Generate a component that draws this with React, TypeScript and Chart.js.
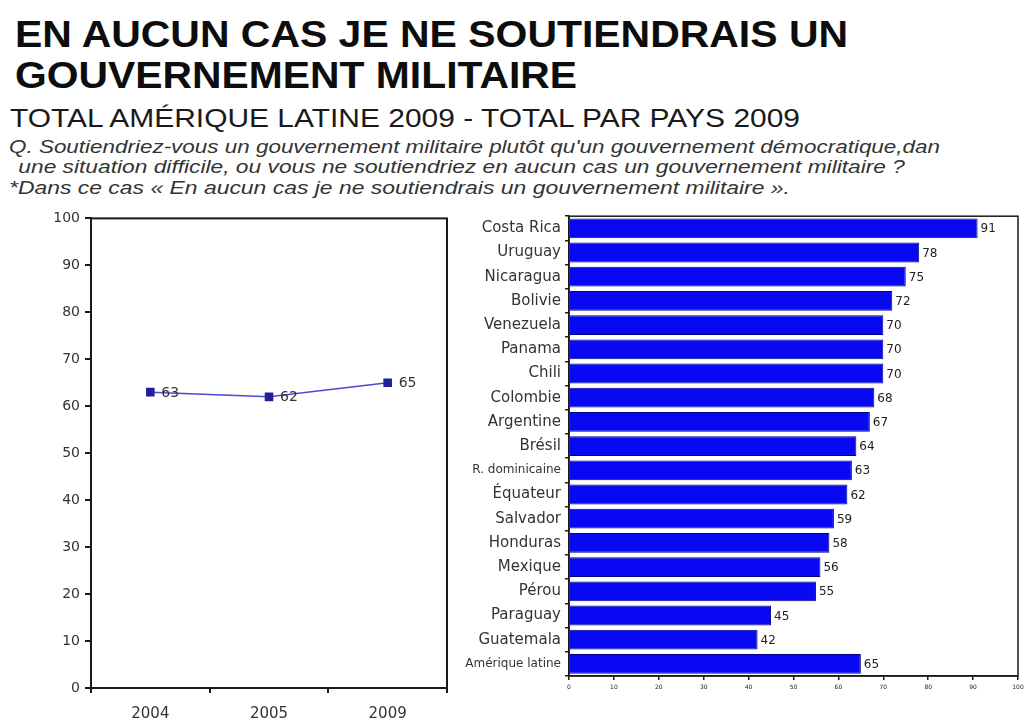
import React, { useEffect, useLayoutEffect, useRef } from "react";
import { Chart, registerables } from "chart.js";

Chart.register(...registerables);

// ---------- data ----------
const years = ["2004", "2005", "2009"];
const totalValues = [63, 62, 65];

const countries = [
  "Costa Rica",
  "Uruguay",
  "Nicaragua",
  "Bolivie",
  "Venezuela",
  "Panama",
  "Chili",
  "Colombie",
  "Argentine",
  "Brésil",
  "R. dominicaine",
  "Équateur",
  "Salvador",
  "Honduras",
  "Mexique",
  "Pérou",
  "Paraguay",
  "Guatemala",
  "Amérique latine",
];
const countryValues = [91, 78, 75, 72, 70, 70, 70, 68, 67, 64, 63, 62, 59, 58, 56, 55, 45, 42, 65];
const smallLabelCountries = ["R. dominicaine", "Amérique latine"];

const titleLines = ["EN AUCUN CAS JE NE SOUTIENDRAIS UN", "GOUVERNEMENT MILITAIRE"];
const subtitle = "TOTAL AMÉRIQUE LATINE 2009 - TOTAL PAR PAYS 2009";
const questionLines = [
  "Q. Soutiendriez-vous un gouvernement militaire plutôt qu'un gouvernement démocratique,dan",
  " une situation difficile, ou vous ne soutiendriez en aucun cas un gouvernement militaire ?",
  "*Dans ce cas « En aucun cas je ne soutiendrais un gouvernement militaire ».",
];

const CHART_FONT = "'DejaVu Sans', 'Liberation Sans', sans-serif";
const TEXT_FONT = "'Liberation Sans', Arial, sans-serif";

// ---------- plugins ----------
const framePlugin = {
  id: "frame",
  afterDatasetsDraw(chart: any, _args: any, opts: any) {
    const { ctx, chartArea } = chart;
    const { left, top, right, bottom } = chartArea;
    ctx.save();
    ctx.strokeStyle = opts.color || "#222";
    ctx.lineWidth = opts.width || 1;
    ctx.strokeRect(left, top, right - left, bottom - top);
    ctx.restore();
  },
};

const valueLabelPlugin = {
  id: "valueLabels",
  afterDatasetsDraw(chart: any, _args: any, opts: any) {
    const { ctx } = chart;
    chart.data.datasets.forEach((ds: any, i: number) => {
      const meta = chart.getDatasetMeta(i);
      meta.data.forEach((el: any, j: number) => {
        ctx.save();
        ctx.font = opts.font;
        ctx.fillStyle = opts.color;
        ctx.textAlign = "left";
        ctx.textBaseline = "middle";
        ctx.fillText(String(ds.data[j]), el.x + opts.dx, el.y + opts.dy);
        ctx.restore();
      });
    });
  },
};

// ---------- text helper ----------
function FitLine({ text, left, top, width, style }: any) {
  const ref = useRef<HTMLDivElement>(null);
  useLayoutEffect(() => {
    const el = ref.current;
    if (!el) return;
    el.style.transform = "none";
    const w = el.getBoundingClientRect().width;
    if (w > 0) el.style.transform = `scaleX(${width / w})`;
  }, [text, width]);
  return (
    <div
      ref={ref}
      style={{
        position: "absolute",
        left,
        top,
        whiteSpace: "pre",
        transformOrigin: "0 0",
        ...style,
      }}
    >
      {text}
    </div>
  );
}

// ---------- charts ----------
function LineChart() {
  const ref = useRef<HTMLCanvasElement>(null);
  useEffect(() => {
    if (!ref.current) return;
    const chart = new Chart(ref.current, {
      type: "line",
      data: {
        labels: years,
        datasets: [
          {
            data: totalValues,
            borderColor: "#4a4ad8",
            borderWidth: 1.5,
            pointStyle: "rect",
            pointRadius: 5,
            pointBackgroundColor: "#1f1f9a",
            pointBorderColor: "#1f1f9a",
            tension: 0,
          },
        ],
      },
      options: {
        responsive: false,
        animation: false,
        layout: { padding: { top: 13, right: 13, left: 0, bottom: 0 } },
        plugins: {
          legend: { display: false },
          tooltip: { enabled: false },
          frame: { color: "#1a1a1a", width: 2 },
          valueLabels: { font: `14px ${CHART_FONT}`, color: "#333", dx: 11, dy: 1 },
        } as any,
        scales: {
          x: {
            offset: true,
            grid: {
              offset: true,
              drawOnChartArea: false,
              drawTicks: true,
              tickLength: 5,
              color: "#1a1a1a",
              lineWidth: 2,
            },
            border: { color: "#1a1a1a", width: 2 },
            ticks: { color: "#333", font: { family: CHART_FONT, size: 15 }, padding: 12 },
            afterFit: (s: any) => {
              s.height = 33;
            },
          },
          y: {
            min: 0,
            max: 100,
            ticks: { stepSize: 10, color: "#333", font: { family: CHART_FONT, size: 14 }, padding: 5 },
            grid: { drawOnChartArea: false, tickLength: 6, color: "#1a1a1a", lineWidth: 2 },
            border: { color: "#1a1a1a", width: 2 },
            afterFit: (s: any) => {
              s.width = 91;
            },
          },
        },
      },
      plugins: [framePlugin, valueLabelPlugin],
    } as any);
    return () => chart.destroy();
  }, []);
  return (
    <canvas
      ref={ref}
      width={460}
      height={516}
      style={{ position: "absolute", left: 0, top: 205, width: 460, height: 516 }}
    />
  );
}

function BarChart() {
  const ref = useRef<HTMLCanvasElement>(null);
  useEffect(() => {
    if (!ref.current) return;
    const chart = new Chart(ref.current, {
      type: "bar",
      data: {
        labels: countries,
        datasets: [
          {
            data: countryValues,
            backgroundColor: "#0808f2",
            borderColor: "#00008a",
            borderWidth: 1,
            barPercentage: 0.82,
            categoryPercentage: 1,
          },
        ],
      },
      options: {
        indexAxis: "y",
        responsive: false,
        animation: false,
        layout: { padding: { top: 5, right: 13, left: 0, bottom: 0 } },
        plugins: {
          legend: { display: false },
          tooltip: { enabled: false },
          frame: { color: "#1a1a1a", width: 1.5 },
          valueLabels: { font: `12px ${CHART_FONT}`, color: "#222", dx: 3, dy: 1 },
        } as any,
        scales: {
          x: {
            min: 0,
            max: 100,
            ticks: { stepSize: 10, color: "#222", font: { family: CHART_FONT, size: 6 }, padding: 4 },
            grid: { drawOnChartArea: false, tickLength: 4, color: "#1a1a1a", lineWidth: 1.5 },
            border: { color: "#1a1a1a", width: 1.5 },
            afterFit: (s: any) => {
              s.height = 45;
            },
          },
          y: {
            grid: { offset: true, drawOnChartArea: false, tickLength: 4, color: "#1a1a1a", lineWidth: 1.5 },
            border: { color: "#1a1a1a", width: 1.5 },
            ticks: {
              color: "#333",
              padding: 4,
              font: (c: any) => ({
                family: CHART_FONT,
                size: smallLabelCountries.includes(countries[c.index]) ? 12 : 15,
              }),
            },
            afterFit: (s: any) => {
              s.width = 109;
            },
          },
        },
      },
      plugins: [framePlugin, valueLabelPlugin],
    } as any);
    return () => chart.destroy();
  }, []);
  return (
    <canvas
      ref={ref}
      width={571}
      height={516}
      style={{ position: "absolute", left: 460, top: 205, width: 571, height: 516 }}
    />
  );
}

export default function App() {
  return (
    <div style={{ position: "absolute", left: 0, top: 0, width: 1031, height: 721, background: "#fff", overflow: "hidden" }}>
      <FitLine
        text={titleLines[0]}
        left={15}
        top={16}
        width={833}
        style={{ font: `bold 37px/37px ${TEXT_FONT}`, color: "#0d0d0d" }}
      />
      <FitLine
        text={titleLines[1]}
        left={15}
        top={57}
        width={562}
        style={{ font: `bold 37px/37px ${TEXT_FONT}`, color: "#0d0d0d" }}
      />
      <FitLine
        text={subtitle}
        left={10}
        top={105}
        width={790}
        style={{ font: `26px/26px ${TEXT_FONT}`, color: "#1a1a1a" }}
      />
      <FitLine
        text={questionLines[0]}
        left={9}
        top={138}
        width={931}
        style={{ font: `italic 18px/18px ${TEXT_FONT}`, color: "#333" }}
      />
      <FitLine
        text={questionLines[1]}
        left={12}
        top={158}
        width={893}
        style={{ font: `italic 18px/18px ${TEXT_FONT}`, color: "#333" }}
      />
      <FitLine
        text={questionLines[2]}
        left={9}
        top={179}
        width={781}
        style={{ font: `italic 18px/18px ${TEXT_FONT}`, color: "#333" }}
      />
      <LineChart />
      <BarChart />
    </div>
  );
}
